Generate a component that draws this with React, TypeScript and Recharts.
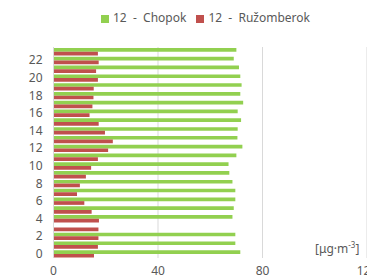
import { BarChart, Bar, XAxis, YAxis, CartesianGrid, Legend } from 'recharts';

const hours = [0, 1, 2, 3, 4, 5, 6, 7, 8, 9, 10, 11, 12, 13, 14, 15, 16, 17, 18, 19, 20, 21, 22, 23];
const chopok = [71.5, 69.6, 69.6, null, 68.5, 69, 69.6, 69.6, 68.5, 67.3, 67, 70, 72.3, 70.4, 70.5, 71.8, 70.5, 72.6, 71.5, 72, 71.5, 71, 69, 70];
const ruzomberok = [15.5, 17, 17.2, 17.2, 17.4, 14.6, 11.8, 9, 10.1, 12.4, 14.4, 17, 20.9, 22.7, 19.7, 17.3, 13.8, 14.9, 15.3, 15.4, 17, 16.3, 17.3, 17];
const yTicks = [0, 2, 4, 6, 8, 10, 12, 14, 16, 18, 20, 22];
const xTicks = [0, 40, 80, 120];

const data = hours.map((h, i) => ({ hour: h, chopok: chopok[i], ruzomberok: ruzomberok[i] }));

const font = '"Noto Sans", sans-serif';
const textColor = '#595959';

export default function App() {
  return (
    <div style={{ position: 'absolute', left: 0, top: 0, width: 367, height: 279, overflow: 'hidden', background: '#fff', fontFamily: font }}>
      <BarChart
        width={400}
        height={279}
        layout="vertical"
        data={data}
        margin={{ top: 30, right: 33, left: 0, bottom: 0 }}
        barGap={0}
      >
        <CartesianGrid horizontal={false} stroke="#d9d9d9" />
        <XAxis
          type="number"
          domain={[0, 120]}
          ticks={xTicks}
          axisLine={false}
          tickLine={false}
          tick={{ fontSize: 12, fill: textColor, fontFamily: font }}
          height={21}
        />
        <YAxis
          type="category"
          dataKey="hour"
          reversed
          ticks={yTicks}
          interval={0}
          width={53.5}
          axisLine={{ stroke: '#d9d9d9' }}
          tickLine={false}
          tickMargin={5}
          tick={{ fontSize: 12, fill: textColor, fontFamily: font }}
        />
        <Legend
          verticalAlign="top"
          iconType="square"
          iconSize={8}
          wrapperStyle={{ top: 9, left: 54, width: 313, fontSize: 12, fontFamily: font }}
          formatter={(v) => <span style={{ color: textColor, whiteSpace: 'pre' }}>{v}</span>}
        />
        <Bar dataKey="chopok" name="12  -  Chopok" fill="#92D050" barSize={3.7} isAnimationActive={false} />
        <Bar dataKey="ruzomberok" name="12  -  Ružomberok" fill="#C0504D" barSize={3.7} isAnimationActive={false} />
      </BarChart>
      <div style={{ position: 'absolute', left: 315, top: 239, fontSize: 12, color: textColor }}>
        [μg·m<sup style={{ fontSize: 8 }}>-3</sup>]
      </div>
    </div>
  );
}
